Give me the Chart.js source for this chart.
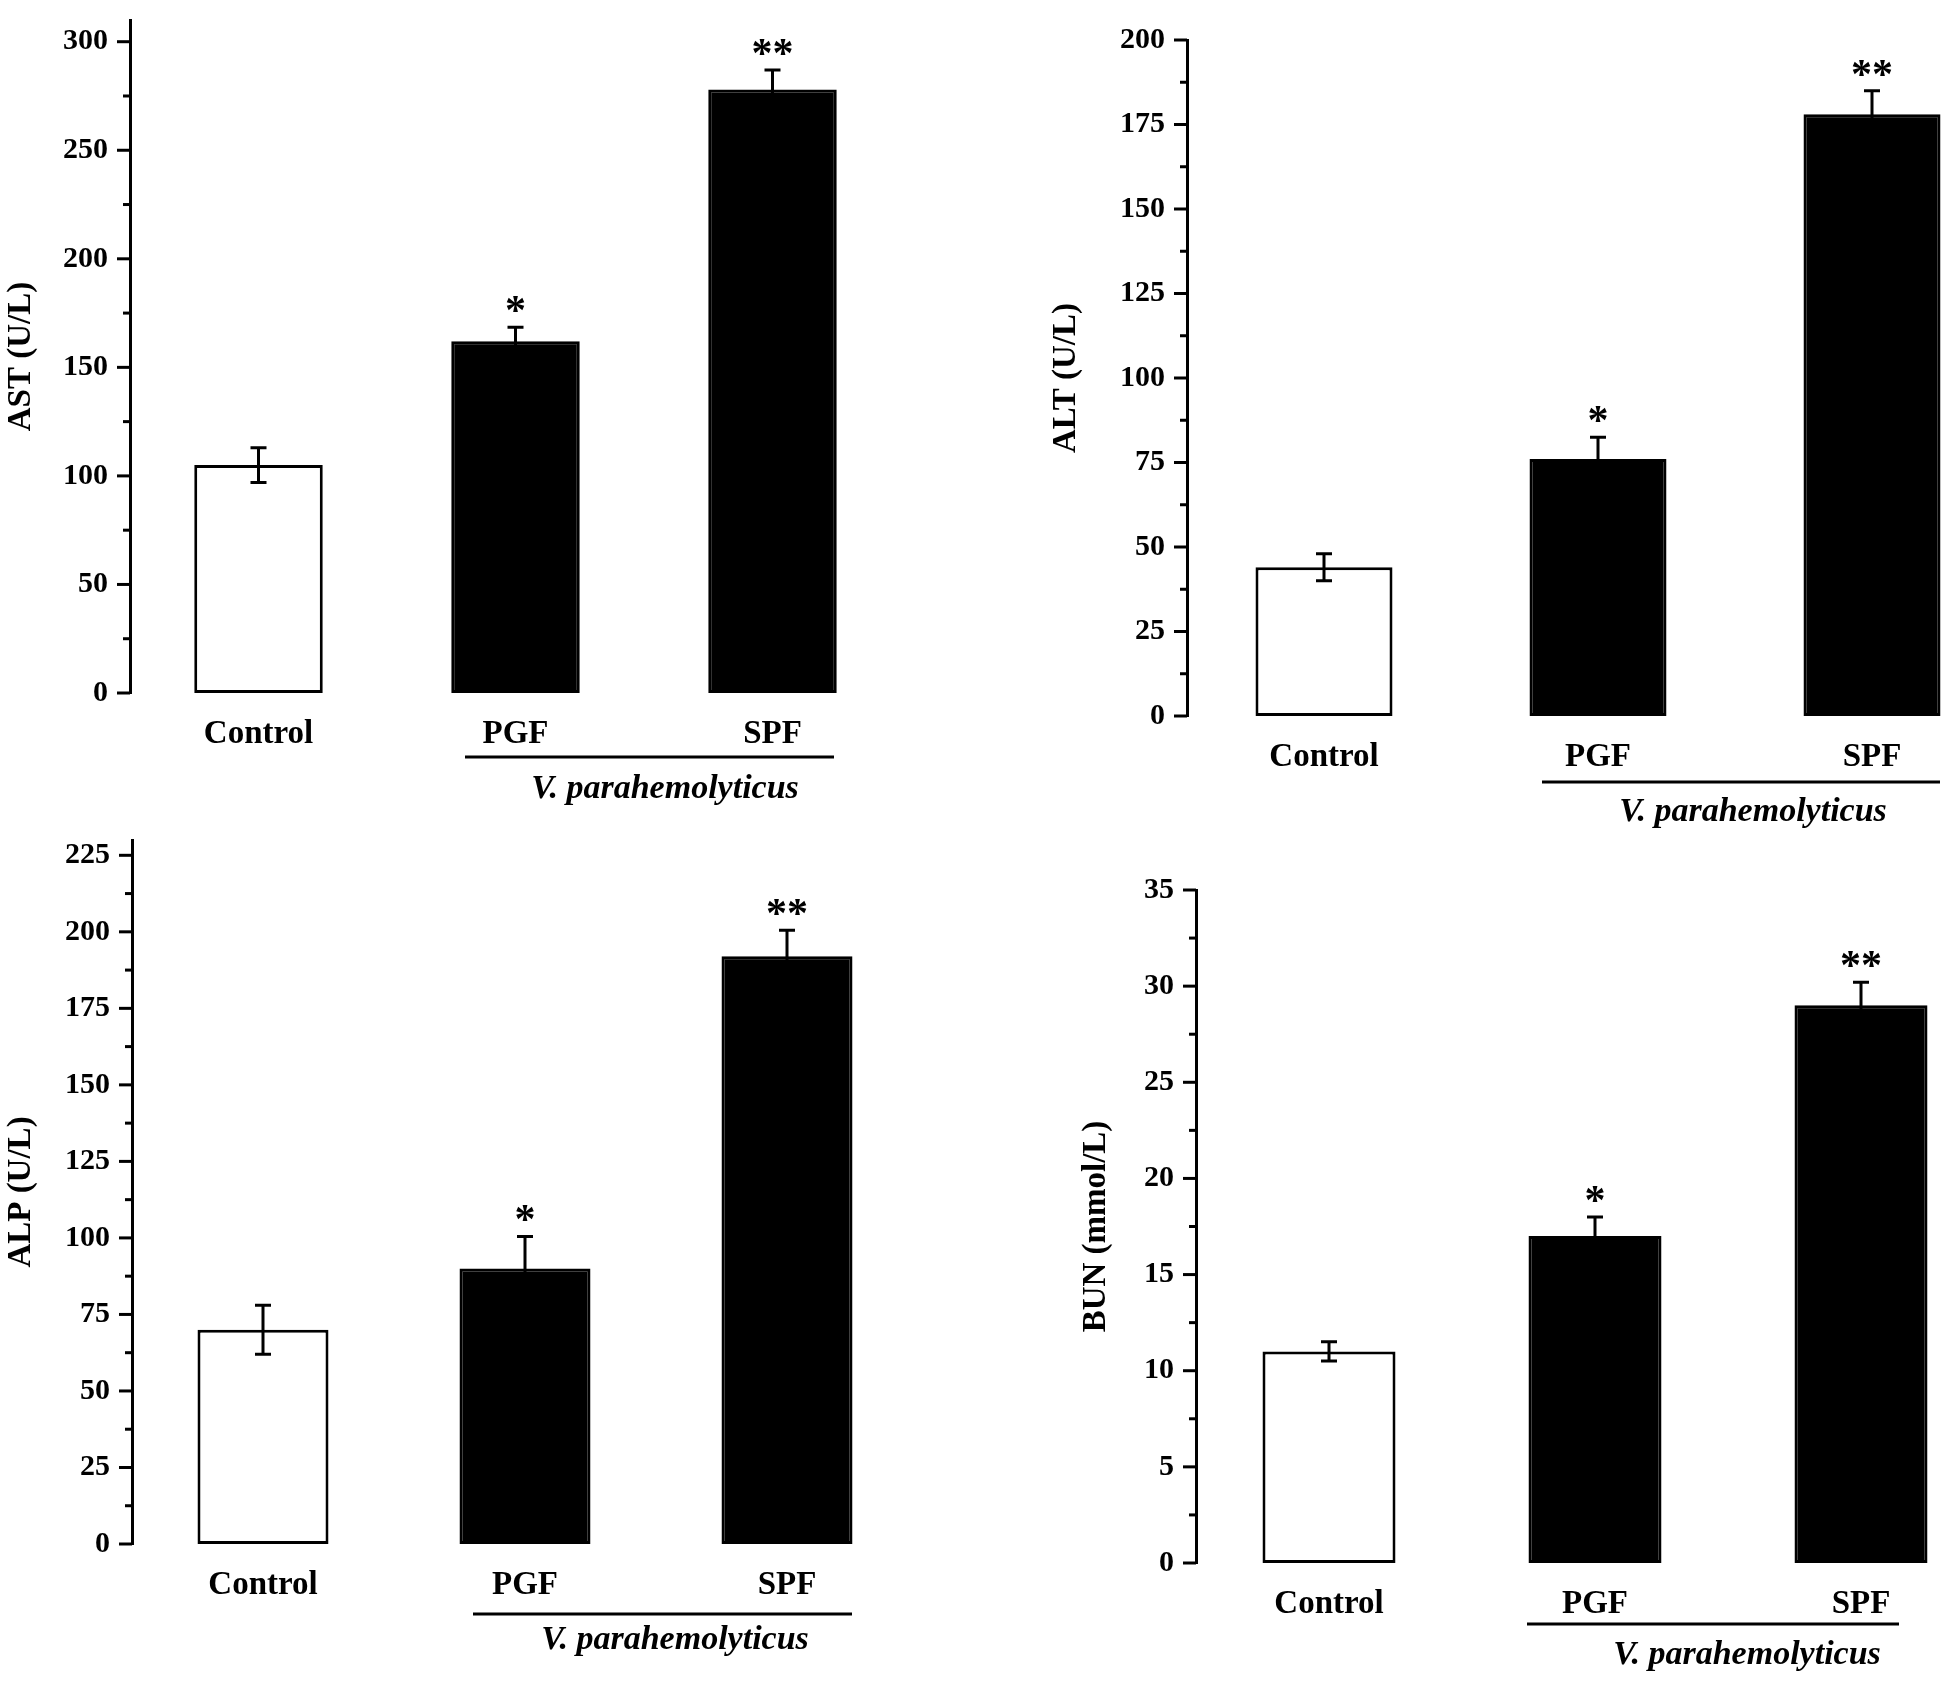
<!DOCTYPE html>
<html>
<head>
<meta charset="utf-8">
<script src="https://cdn.jsdelivr.net/npm/chart.js@4.4.1/dist/chart.umd.min.js"></script>
<style>
  html, body { margin: 0; padding: 0; background: #fff; width: 1950px; height: 1682px; overflow: hidden; position: relative; }
  canvas { position: absolute; }
</style>
</head>
<body>
<canvas id="astChart"></canvas>
<canvas id="altChart"></canvas>
<canvas id="alpChart"></canvas>
<canvas id="bunChart"></canvas>
<script>
// data
const groups = ["Control", "PGF", "SPF"];
const marks = ["", "*", "**"];
const infectedLabel = "V. parahemolyticus";

const astMeans = [105, 162, 278];
const astErrors = [8, 6.5, 9];
const altMeans = [44, 76, 178];
const altErrors = [4, 6.5, 7];
const alpMeans = [70, 90, 192];
const alpErrors = [8, 10.5, 8.5];
const bunMeans = [11, 17, 29];
const bunErrors = [0.5, 1.0, 1.2];

// axis: max, major step, minor step
const astAxis = [310, 50, 25];
const altAxis = [200, 25, 12.5];
const alpAxis = [230, 25, 12.5];
const bunAxis = [35, 5, 2.5];

const SERIF = "'Liberation Serif', 'Times New Roman', serif";

// page layout of each panel
const panels = [
  { id: "astChart", title: "AST (U/L)", means: astMeans, errors: astErrors, axis: astAxis,
    canvas: { left: 0, top: -20, width: 940, height: 880 }, titlePad: 2,
    plot: { left: 130, top: 12, right: 901, bottom: 693 },
    line: [465, 834, 757], text: [665, 789] },
  { id: "altChart", title: "ALT (U/L)", means: altMeans, errors: altErrors, axis: altAxis,
    canvas: { left: 1043, top: 0, width: 1000, height: 860 }, titlePad: 4,
    plot: { left: 1187, top: 29, right: 2009, bottom: 716 },
    line: [1542, 1940, 782], text: [1753, 812] },
  { id: "alpChart", title: "ALP (U/L)", means: alpMeans, errors: alpErrors, axis: alpAxis,
    canvas: { left: 0, top: 800, width: 940, height: 882 }, titlePad: 2,
    plot: { left: 132, top: 838, right: 918, bottom: 1544 },
    line: [473, 852, 1614], text: [675, 1640] },
  { id: "bunChart", title: "BUN (mmol/L)", means: bunMeans, errors: bunErrors, axis: bunAxis,
    canvas: { left: 1073, top: 850, width: 950, height: 832 }, titlePad: 4,
    plot: { left: 1196, top: 886, right: 1994, bottom: 1563 },
    line: [1527, 1899, 1624], text: [1747, 1655] },
];

// error bars + significance stars
const errorBarsPlugin = {
  id: "errorBars",
  afterDatasetsDraw(chart, args, opts) {
    const ctx = chart.ctx;
    const y = chart.scales.y;
    const meta = chart.getDatasetMeta(0);
    ctx.save();
    ctx.strokeStyle = "#000";
    ctx.fillStyle = "#000";
    ctx.lineWidth = 3;
    meta.data.forEach(function (bar, i) {
      const v = chart.data.datasets[0].data[i];
      const e = opts.errors[i];
      const yTop = y.getPixelForValue(v + e);
      const yBot = y.getPixelForValue(v - e);
      ctx.beginPath();
      ctx.moveTo(bar.x, yTop);
      ctx.lineTo(bar.x, yBot);
      ctx.moveTo(bar.x - 8, yTop);
      ctx.lineTo(bar.x + 8, yTop);
      ctx.moveTo(bar.x - 8, yBot);
      ctx.lineTo(bar.x + 8, yBot);
      ctx.stroke();
      if (opts.marks[i]) {
        ctx.font = "bold 42px " + SERIF;
        ctx.textAlign = "center";
        ctx.textBaseline = "alphabetic";
        ctx.fillText(opts.marks[i], bar.x, yTop - 3);
      }
    });
    ctx.restore();
  },
};

// outward major/minor ticks on the y axis
const axisTicksPlugin = {
  id: "axisTicks",
  afterDraw(chart, args, opts) {
    const ctx = chart.ctx;
    const y = chart.scales.y;
    const x0 = chart.chartArea.left;
    const max = opts.axis[0], major = opts.axis[1], minor = opts.axis[2];
    ctx.save();
    ctx.strokeStyle = "#000";
    ctx.lineWidth = 3;
    const n = Math.round(max / minor);
    for (let i = 0; i * minor <= max + 1e-9 && i <= n; i++) {
      const v = i * minor;
      const isMajor = Math.abs(v / major - Math.round(v / major)) < 1e-6;
      const py = y.getPixelForValue(v);
      ctx.beginPath();
      ctx.moveTo(x0, py);
      ctx.lineTo(x0 - (isMajor ? 13 : 7), py);
      ctx.stroke();
    }
    ctx.restore();
  },
};

// group underline and italic label
const groupLabelPlugin = {
  id: "groupLabel",
  afterDraw(chart, args, opts) {
    const ctx = chart.ctx;
    const c = opts.canvas;
    ctx.save();
    ctx.strokeStyle = "#000";
    ctx.lineWidth = 3;
    ctx.beginPath();
    ctx.moveTo(opts.line[0] - c.left, opts.line[2] - c.top);
    ctx.lineTo(opts.line[1] - c.left, opts.line[2] - c.top);
    ctx.stroke();
    ctx.fillStyle = "#000";
    ctx.font = "italic bold 34px " + SERIF;
    ctx.textAlign = "center";
    ctx.textBaseline = "middle";
    ctx.fillText(infectedLabel, opts.text[0] - c.left, opts.text[1] - c.top);
    ctx.restore();
  },
};

panels.forEach(function (p) {
  const el = document.getElementById(p.id);
  el.width = p.canvas.width;
  el.height = p.canvas.height;
  el.style.left = p.canvas.left + "px";
  el.style.top = p.canvas.top + "px";

  new Chart(el.getContext("2d"), {
    type: "bar",
    data: {
      labels: groups,
      datasets: [
        {
          data: p.means,
          backgroundColor: ["#ffffff", "#000000", "#000000"],
          borderColor: "#000000",
          borderWidth: 3,
          borderSkipped: false,
          barPercentage: 0.5,
          categoryPercentage: 1.0,
        },
      ],
    },
    options: {
      responsive: false,
      animation: false,
      devicePixelRatio: 1,
      layout: {
        padding: {
          left: 0,
          top: p.plot.top - p.canvas.top,
          right: p.canvas.left + p.canvas.width - p.plot.right,
          bottom: 0,
        },
      },
      plugins: {
        legend: { display: false },
        tooltip: { enabled: false },
        errorBars: { errors: p.errors, marks: marks },
        axisTicks: { axis: p.axis },
        groupLabel: { canvas: p.canvas, line: p.line, text: p.text },
      },
      scales: {
        x: {
          grid: { display: false, drawTicks: false },
          border: { display: false },
          ticks: {
            color: "#000",
            padding: 22,
            maxRotation: 0,
            font: { family: SERIF, size: 33, weight: "bold" },
          },
          afterFit: function (s) {
            s.height = p.canvas.top + p.canvas.height - p.plot.bottom;
          },
        },
        y: {
          min: 0,
          max: p.axis[0],
          grid: { display: false, drawTicks: false },
          border: { display: true, width: 3, color: "#000" },
          ticks: {
            stepSize: p.axis[1],
            includeBounds: false,
            color: "#000",
            padding: 22,
            font: { family: SERIF, size: 30, weight: "bold" },
          },
          title: {
            display: true,
            text: p.title,
            color: "#000",
            padding: { top: p.titlePad, bottom: 0 },
            font: { family: SERIF, size: 33, weight: "bold" },
          },
          afterFit: function (s) {
            s.width = p.plot.left - p.canvas.left;
          },
        },
      },
    },
    plugins: [errorBarsPlugin, axisTicksPlugin, groupLabelPlugin],
  });
});
</script>
</body>
</html>
